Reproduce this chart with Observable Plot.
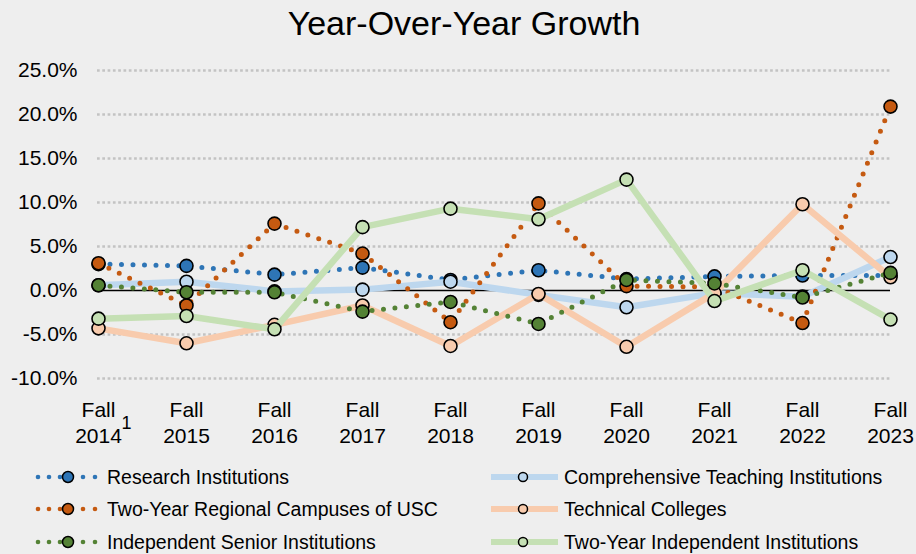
<!DOCTYPE html>
<html>
<head>
<meta charset="utf-8">
<script src="https://cdn.jsdelivr.net/npm/d3@7"></script>
<script src="https://cdn.jsdelivr.net/npm/@observablehq/plot@0.6"></script>
<style>
  html, body { margin: 0; padding: 0; background: #eeeeee; }
  #wrap { position: relative; width: 916px; height: 554px; background: #eeeeee; overflow: hidden;
          font-family: "Liberation Sans", Arial, sans-serif; color: #000; }
  #title { position: absolute; left: 6px; top: 0; width: 916px; height: 46px; line-height: 46px;
           text-align: center; font-size: 34px; }
  #chart { position: absolute; left: 0; top: 46px; }
  .leg { position: absolute; height: 26px; display: flex; align-items: center; font-size: 19.5px; white-space: nowrap; }
  .sw { position: absolute; }
</style>
</head>
<body>
<div id="wrap">
  <div id="title">Year-Over-Year Growth</div>
  <div id="chart"></div>
  <div id="legend"></div>
</div>
<script>
const years = ["2014","2015","2016","2017","2018","2019","2020","2021","2022","2023"];
const yTicks = [-10, -5, 0, 5, 10, 15, 20, 25];

const seriesNames = [
  "Research Institutions",
  "Comprehensive Teaching Institutions",
  "Two-Year Regional Campuses of USC",
  "Technical Colleges",
  "Independent Senior Institutions",
  "Two-Year Independent Institutions"
];
const seriesColors = ["#2e75b6", "#bdd7ee", "#c55a11", "#f8cbad", "#548235", "#c5e0b4"];
const seriesDotted = [true, false, true, false, true, false];

const research      = [3.0, 2.8, 1.8, 2.6, 1.2, 2.3, 1.3, 1.6, 1.7, 1.7];
const comprehensive = [0.6, 1.0, -0.1, 0.1, 1.0, -0.5, -1.9, -0.3, -0.7, 3.8];
const regional      = [3.1, -1.7, 7.6, 4.2, -3.6, 9.9, 0.5, 0.4, -3.7, 20.9];
const technical     = [-4.3, -6.0, -3.9, -1.7, -6.3, -0.4, -6.4, -0.3, 9.8, 1.5];
const indepSenior   = [0.6, -0.2, -0.2, -2.4, -1.3, -3.8, 1.2, 0.8, -0.8, 2.0];
const twoYearIndep  = [-3.2, -2.9, -4.4, 7.2, 9.3, 8.1, 12.6, -1.2, 2.3, -3.3];

const seriesValues = [research, comprehensive, regional, technical, indepSenior, twoYearIndep];

const seriesMarks = [];
seriesValues.forEach((vals, i) => {
  const data = years.map((y, j) => ({year: y, value: vals[j]}));
  if (seriesDotted[i]) {
    seriesMarks.push(Plot.line(data, {x: "year", y: "value", stroke: seriesColors[i], strokeWidth: 5,
      strokeDasharray: "0 11.5", strokeLinecap: "round"}));
  } else {
    seriesMarks.push(Plot.line(data, {x: "year", y: "value", stroke: seriesColors[i], strokeWidth: 6.5,
      strokeLinejoin: "round"}));
  }
  seriesMarks.push(Plot.dot(data, {x: "year", y: "value", r: 6.5, fill: seriesColors[i], stroke: "#000", strokeWidth: 1.6}));
});

const chart = Plot.plot({
  width: 916,
  height: 402,
  marginLeft: 97,
  marginRight: 26,
  marginTop: 24,
  marginBottom: 70,
  style: {background: "transparent", fontFamily: "'Liberation Sans', Arial, sans-serif", color: "#000", overflow: "visible"},
  x: {type: "point", domain: years, padding: 0},
  y: {domain: [-10, 25]},
  marks: [
    Plot.ruleY(yTicks.filter(t => t !== 0), {stroke: "#c3c3c3", strokeWidth: 2.7, strokeDasharray: "2.7 2.6"}),
    Plot.ruleY([0], {stroke: "#000", strokeWidth: 1.5}),
    Plot.axisY({ticks: yTicks, tickFormat: d => d.toFixed(1) + "%", tickSize: 0, tickPadding: 20,
      fontSize: 21, label: null}),
    Plot.axisX({tickFormat: d => "Fall\n" + d, tickSize: 0, tickPadding: 20, fontSize: 21,
      lineHeight: 1.24, label: null}),
    Plot.text(["1"], {x: () => years[0], frameAnchor: "bottom", lineAnchor: "top", dy: 38, dx: 28,
      fontSize: 18, fill: "#000"}),
    ...seriesMarks
  ]
});
document.getElementById("chart").appendChild(chart);

// Legend
const legend = document.getElementById("legend");
const rowCenters = [477, 509, 542];
const order = [[0, 1], [2, 3], [4, 5]];
const NS = "http://www.w3.org/2000/svg";
order.forEach((pair, r) => {
  pair.forEach((si, c) => {
    const cy = rowCenters[r];
    const svg = document.createElementNS(NS, "svg");
    svg.setAttribute("class", "sw");
    svg.setAttribute("width", 80);
    svg.setAttribute("height", 20);
    const left = c === 0 ? 30 : 486;
    svg.style.left = left + "px";
    svg.style.top = (cy - 10) + "px";
    svg.style.position = "absolute";
    if (seriesDotted[si]) {
      [38, 49, 60, 83, 95].forEach(x => {
        const d = document.createElementNS(NS, "circle");
        d.setAttribute("cx", x - left); d.setAttribute("cy", 10); d.setAttribute("r", 2.3);
        d.setAttribute("fill", seriesColors[si]);
        svg.appendChild(d);
      });
      const m = document.createElementNS(NS, "circle");
      m.setAttribute("cx", 68 - left); m.setAttribute("cy", 10); m.setAttribute("r", 5.5);
      m.setAttribute("fill", seriesColors[si]); m.setAttribute("stroke", "#000"); m.setAttribute("stroke-width", 1.5);
      svg.appendChild(m);
    } else {
      const l = document.createElementNS(NS, "line");
      l.setAttribute("x1", 491 - left); l.setAttribute("x2", 558 - left);
      l.setAttribute("y1", 10); l.setAttribute("y2", 10);
      l.setAttribute("stroke", seriesColors[si]); l.setAttribute("stroke-width", 6);
      svg.appendChild(l);
      const m = document.createElementNS(NS, "circle");
      m.setAttribute("cx", 523 - left); m.setAttribute("cy", 10); m.setAttribute("r", 4.5);
      m.setAttribute("fill", seriesColors[si]); m.setAttribute("stroke", "#000"); m.setAttribute("stroke-width", 1.5);
      svg.appendChild(m);
    }
    legend.appendChild(svg);
    const t = document.createElement("div");
    t.className = "leg";
    t.style.left = (c === 0 ? 107 : 564) + "px";
    t.style.top = (cy - 13) + "px";
    t.textContent = seriesNames[si];
    legend.appendChild(t);
  });
});
</script>
</body>
</html>
